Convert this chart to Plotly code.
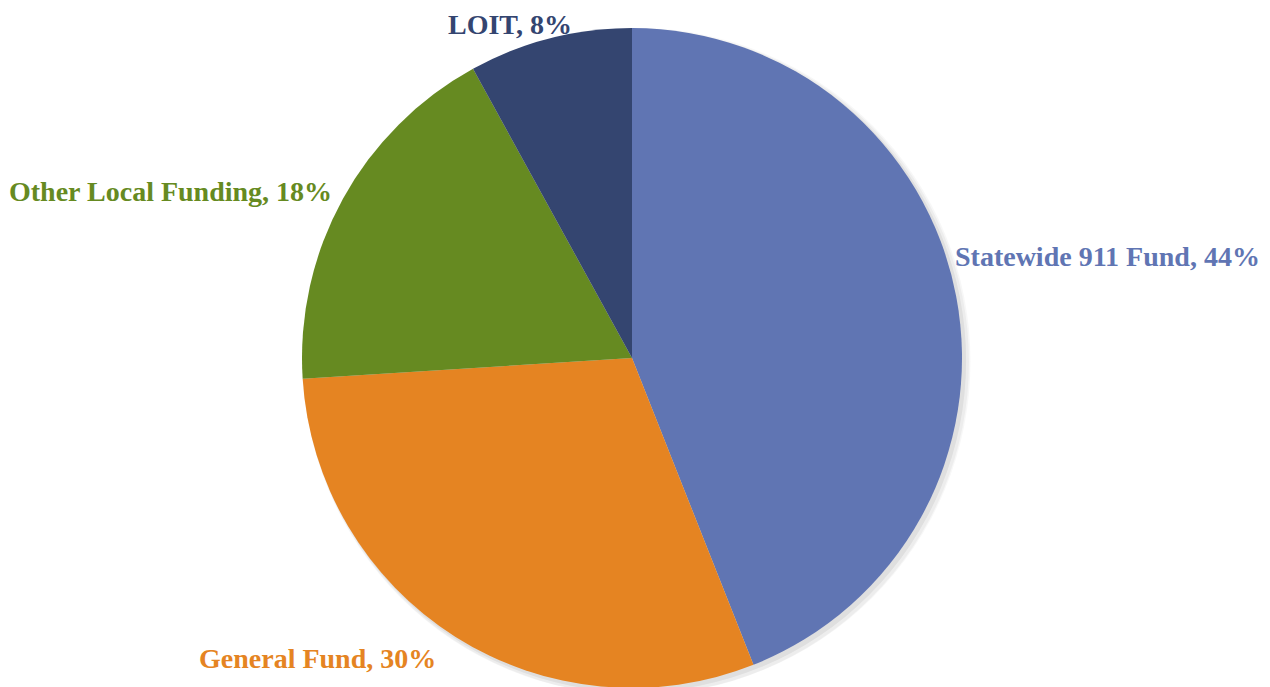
import plotly.graph_objects as go

labels = ["Statewide 911 Fund", "General Fund", "Other Local Funding", "LOIT"]
values = [44, 30, 18, 8]
colors = ["#6075B3", "#E58422", "#668A21", "#344570"]

W, H = 1270, 687
OFF = 8  # page body margin
cx, cy, r = 632 - OFF, 358 - OFF, 330

def dom(cx, cy, r):
    d = dict(x=[(cx - r) / W, (cx + r) / W], y=[1 - (cy + r) / H, 1 - (cy - r) / H])
    d["y"] = [max(0, d["y"][0]), min(1, d["y"][1])]
    return d

fig = go.Figure()

# soft shadow layers
for dx, dr, a in [(5, 5, 0.03), (4, 3, 0.04), (3, 1, 0.06)]:
    fig.add_trace(go.Pie(
        values=[sum(values)], labels=["shadow"],
        marker=dict(colors=[f"rgba(0,0,0,{a})"], line=dict(width=0)),
        textinfo="none", hoverinfo="skip", sort=False,
        domain=dom(cx + dx, cy + dx, r + dr), showlegend=False,
    ))

fig.add_trace(go.Pie(
    labels=labels, values=values, sort=False, direction="clockwise", rotation=0,
    marker=dict(colors=colors, line=dict(width=0)),
    textinfo="none", domain=dom(cx, cy, r), showlegend=False,
))

label_pos = [(1107, 256), (317, 658), (170, 191), (510, None)]
for lab, v, c, (px, py) in zip(labels, values, colors, label_pos):
    if py is None:
        y, ya = 1, "top"
    else:
        y, ya = 1 - (py - OFF) / H, "middle"
    fig.add_annotation(
        x=(px - OFF) / W, y=y, xref="paper", yref="paper",
        text=f"<b>{lab}, {v}%</b>", showarrow=False,
        font=dict(family="Liberation Serif", size=28, color=c),
        xanchor="center", yanchor=ya, borderpad=0,
    )

fig.update_layout(
    width=W, height=H, margin=dict(l=0, r=0, t=0, b=0),
    paper_bgcolor="white", plot_bgcolor="white",
)
fig.write_html("out.html")
